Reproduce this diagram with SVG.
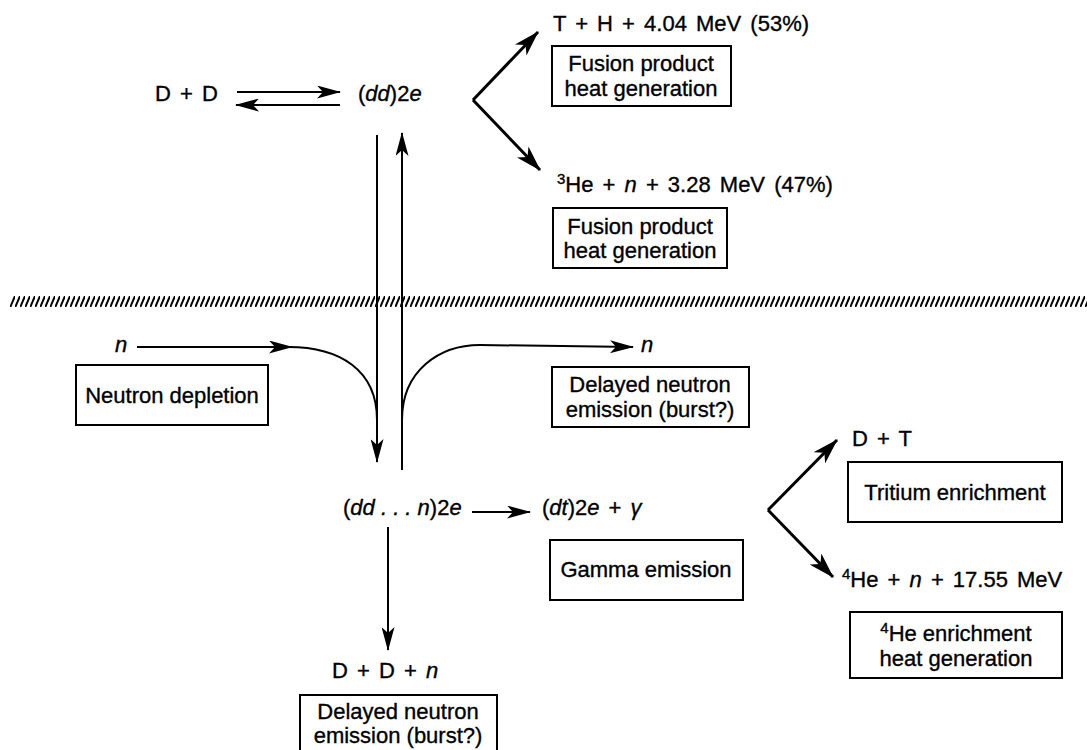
<svg xmlns="http://www.w3.org/2000/svg" width="1087" height="750" viewBox="0 0 1087 750">
<style>
text{font-family:"Liberation Sans",Arial,sans-serif;font-size:22px;fill:#000;stroke:#000;stroke-width:0.35}
.eq{word-spacing:3px}
.it{font-style:italic}
.box{fill:#fff;stroke:#000;stroke-width:2}
.ln{fill:none;stroke:#000;stroke-width:2}
.th{fill:none;stroke:#000;stroke-width:3}
.sup{font-size:15px}
</style>
<defs>
<marker id="ah" viewBox="0 0 24 13" refX="23" refY="6.5" markerWidth="24" markerHeight="13" markerUnits="userSpaceOnUse" orient="auto"><path d="M0,0 L24,6.5 L0,13 L6,6.5 z" fill="#000"/></marker>
<marker id="ahb" viewBox="0 0 26 16" refX="25" refY="8" markerWidth="26" markerHeight="16" markerUnits="userSpaceOnUse" orient="auto"><path d="M0,0 L26,8 L0,16 L7,8 z" fill="#000"/></marker>
<pattern id="hatch" patternUnits="userSpaceOnUse" width="5" height="11" x="0" y="296"><path d="M0.3,11 L5,0" stroke="#000" stroke-width="2"/></pattern>
</defs>
<rect width="1087" height="750" fill="#fff"/>
<rect x="10" y="296" width="1077" height="11" fill="url(#hatch)"/>
<g id="connectors">
<line class="ln" x1="237" y1="92" x2="340" y2="92" marker-end="url(#ah)"/>
<line class="ln" x1="340" y1="105" x2="236" y2="105" marker-end="url(#ah)"/>
<line class="th" x1="473" y1="100" x2="538" y2="32" marker-end="url(#ahb)"/>
<line class="th" x1="473" y1="100" x2="540" y2="170" marker-end="url(#ahb)"/>
<line class="ln" x1="377" y1="135" x2="377" y2="462" marker-end="url(#ah)"/>
<line class="ln" x1="402" y1="470" x2="402" y2="133" marker-end="url(#ah)"/>
<line class="ln" x1="137" y1="347" x2="292" y2="347" marker-end="url(#ah)"/>
<path class="ln" d="M288,347 C340,347 377,370 377,420"/>
<path class="ln" d="M402,420 C402,370 440,345 480,345 L633,347" marker-end="url(#ah)"/>
<line class="ln" x1="472" y1="512" x2="530" y2="512" marker-end="url(#ah)"/>
<line class="ln" x1="388" y1="527" x2="388" y2="650" marker-end="url(#ah)"/>
<line class="th" x1="768" y1="510" x2="837" y2="440" marker-end="url(#ahb)"/>
<line class="th" x1="768" y1="510" x2="833" y2="577" marker-end="url(#ahb)"/>
</g>
<g id="n-dd"><text class="eq" x="155" y="101">D + D</text></g>
<g id="n-dd2e"><text x="358" y="101"><tspan>(</tspan><tspan class="it">dd</tspan><tspan>)2</tspan><tspan class="it">e</tspan></text></g>
<g id="n-th"><text class="eq" x="553" y="31">T + H + 4.04 MeV (53%)</text></g>
<g id="n-box1"><rect class="box" x="552" y="46" width="179" height="60"/><text x="641" y="71" text-anchor="middle">Fusion product</text><text x="641" y="96" text-anchor="middle">heat generation</text></g>
<g id="n-he3"><text class="eq" x="557" y="192"><tspan class="sup" dy="-8">3</tspan><tspan dy="8">He + </tspan><tspan class="it">n</tspan><tspan> + 3.28 MeV (47%)</tspan></text></g>
<g id="n-box2"><rect class="box" x="553" y="208" width="174" height="60"/><text x="640" y="234" text-anchor="middle">Fusion product</text><text x="640" y="258" text-anchor="middle">heat generation</text></g>
<g id="n-nin"><text class="it" x="115" y="352">n</text></g>
<g id="n-depl"><rect class="box" x="76" y="365" width="192" height="60"/><text x="172" y="403" text-anchor="middle">Neutron depletion</text></g>
<g id="n-nout"><text class="it" x="641" y="352">n</text></g>
<g id="n-delay1"><rect class="box" x="552" y="367" width="197" height="60"/><text x="650" y="392" text-anchor="middle">Delayed neutron</text><text x="650" y="417" text-anchor="middle">emission (burst?)</text></g>
<g id="n-ddn"><text x="343" y="515"><tspan>(</tspan><tspan class="it">dd . . . n</tspan><tspan>)2</tspan><tspan class="it">e</tspan></text></g>
<g id="n-dt"><text class="eq" x="542" y="515"><tspan>(</tspan><tspan class="it">dt</tspan><tspan>)2</tspan><tspan class="it">e</tspan><tspan> + </tspan><tspan class="it">γ</tspan></text></g>
<g id="n-gamma"><rect class="box" x="550" y="540" width="193" height="60"/><text x="646" y="577" text-anchor="middle">Gamma emission</text></g>
<g id="n-ddn2"><text class="eq" x="332" y="678">D + D + <tspan class="it">n</tspan></text></g>
<g id="n-delay2"><rect class="box" x="300" y="695" width="197" height="60"/><text x="398" y="719" text-anchor="middle">Delayed neutron</text><text x="398" y="743" text-anchor="middle">emission (burst?)</text></g>
<g id="n-dt2"><text class="eq" x="852" y="446">D + T</text></g>
<g id="n-trit"><rect class="box" x="848" y="462" width="214" height="60"/><text x="955" y="500" text-anchor="middle">Tritium enrichment</text></g>
<g id="n-he4"><text class="eq" x="842" y="587"><tspan class="sup" dy="-8">4</tspan><tspan dy="8">He + </tspan><tspan class="it">n</tspan><tspan> + 17.55 MeV</tspan></text></g>
<g id="n-he4box"><rect class="box" x="850" y="612" width="212" height="66"/><text x="956" y="641" text-anchor="middle"><tspan class="sup" dy="-8">4</tspan><tspan dy="8">He enrichment</tspan></text><text x="956" y="666" text-anchor="middle">heat generation</text></g>
</svg>
